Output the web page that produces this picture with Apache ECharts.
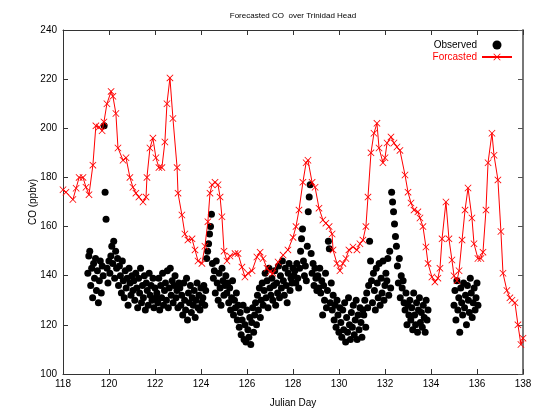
<!DOCTYPE html>
<html><head><meta charset="utf-8">
<script src="https://cdn.jsdelivr.net/npm/echarts@6/dist/echarts.min.js"></script>
<style>html,body{margin:0;padding:0;background:#fff}#c{width:543px;height:411px}</style>
</head><body><div id="c"></div>
<script>
// ---- data ----
const xMin = 118, xMax = 138, xStep = 2;
const yMin = 100, yMax = 240, yStep = 20;

// Forecasted CO (Julian day, ppbv)
const fcDays = [118.00,118.13,118.43,118.57,118.70,118.87,119.00,119.13,119.30,119.43,119.57,119.70,119.78,119.91,120.09,120.17,120.30,120.39,120.61,120.74,120.91,121.04,121.17,121.30,121.48,121.61,121.65,121.78,121.91,122.04,122.17,122.30,122.43,122.52,122.65,122.78,122.96,123.00,123.17,123.30,123.43,123.61,123.74,123.87,124.04,124.17,124.30,124.39,124.48,124.61,124.74,124.83,124.91,125.00,125.13,125.26,125.48,125.61,125.78,125.91,126.04,126.22,126.43,126.57,126.70,126.87,127.00,127.13,127.35,127.57,127.78,128.00,128.13,128.26,128.43,128.57,128.65,128.83,128.96,129.13,129.30,129.43,129.57,129.70,129.74,129.91,130.04,130.17,130.30,130.43,130.61,130.78,130.91,131.04,131.17,131.26,131.39,131.52,131.65,131.74,131.91,132.00,132.09,132.26,132.39,132.52,132.65,132.87,133.00,133.13,133.26,133.43,133.52,133.65,133.78,133.87,134.04,134.17,134.30,134.39,134.48,134.65,134.78,134.91,135.00,135.13,135.22,135.35,135.48,135.61,135.78,135.87,136.04,136.17,136.26,136.39,136.48,136.65,136.74,136.91,137.04,137.13,137.30,137.43,137.52,137.65,137.78,137.91,138.00];
const fcValues = [175,174,171,175.6,180,180,176,173,185,201,200.5,199,202.6,210,215,213,206,192,187,188,180,176,173.6,172,170,172,180,192,196,188,184,184,194.4,210,220.5,204,184,173.6,164.7,157,154.5,155,150.5,146,145,152,162,173.6,177,178,177,172,164,150,146,148,149,149,143.5,139.5,141,142,147.6,149.6,147,143,141.5,141,145.6,148.4,150.5,155.6,160,166.7,178,186,187,178,176,167.5,162.7,161.4,160,157,150.5,145,142,145,147,150.5,151.7,150.5,153,154.5,160,172,190,198,202,192,186,188,194,196.5,194,192.4,191,181,174,169.6,166.7,166,163.5,160,151.7,145,139.5,137.4,139,143,155,170,155,146.4,140,138,142,154.5,166.7,175.7,163.5,153,147,147,149.6,166.7,186,198,189,179,158,141,134,131,130,129,120,112,114.6];

// Observed CO, hourly (1/24 day) samples
const obsStep = 1 / 24;
const obs1Start = 119.08;
const obs1Values = [
  141,148,150,136,143,131,145,139,147,134,142,129,138,146,133,144,140,201,174,163,143,137,146,141,
  148,152,145,154,139,150,143,147,136,144,140,133,146,138,131,142,135,139,128,143,137,132,140,134,
  138,130,141,135,127,139,133,143,129,136,131,140,126,137,134,128,141,132,136,130,139,127,135,131,
  133,129,139,126,136,131,141,128,134,137,130,142,127,135,143,132,138,129,136,140,131,134,127,137,
  135,128,132,124,137,130,126,139,122,133,129,136,125,131,128,134,123,130,137,127,132,126,135,129,
  131,136,128,134,147,150,153,157,160,165,145,139,142,133,146,137,130,141,135,128,143,138,132,136,
  140,133,137,129,135,126,131,138,124,130,127,133,122,128,119,125,116,122,128,114,120,113,126,118,
  115,123,112,121,127,117,124,129,120,132,126,135,123,130,137,128,134,141,131,138,127,143,135,132,
  139,130,136,142,128,137,133,144,131,140,135,146,138,132,143,136,129,141,145,134,139,137,143,140,
  142,137,145,139,135,143,150,155,159,146,140,144,138,152,166,172,177,149,141,145,136,143,139,134,
  140,135,143,133,138,124,136,130,141,127,134,154,151,129,137,126,132,122,128,119,130,124,117,127,
  121,115,126,118,129,113,123,117,131,120,114,125,119,128,116,122,130,114,124,118,127,121,115,126,
  124,130,119,133,127,136,154,146,138,129,141,134,126,143,137,131,145,128,139,133,146,130,136,141,
  138,147,132,150,135,174,170,166,161,156,152,144,137,147,131,140,135,138,129,126,133,120,128,124,
  130,122,127,118,133,124,120,129,117,126,131,121,125,119,128,123,117,130,122,126
];
const obs2Start = 135.0;
const obs2Values = [128,134,122,138,126,131,117,135,129,124,137,127,132,120,136,130,125,139,133,123,129,135,126,131,137,128];

const titleText = 'Forecasted CO  over Trinidad Head';
const xName = 'Julian Day';
const yName = 'CO (ppbv)';
const obsName = 'Observed';
const fcName = 'Forcasted';

// ---- build ----
const fcData = fcDays.map((d, i) => [d, fcValues[i]]);
const obsData = obs1Values.map((v, i) => [obs1Start + i * obsStep, v])
  .concat(obs2Values.map((v, i) => [obs2Start + i * obsStep, v]));

const FONT = 'Liberation Sans, Arial, sans-serif';
const xSym = 'path://M0,0.8L0.8,0L5,4.2L9.2,0L10,0.8L5.8,5L10,9.2L9.2,10L5,5.8L0.8,10L0,9.2L4.2,5Z';

const chart = echarts.init(document.getElementById('c'), null, {renderer: 'canvas'});
chart.setOption({
  backgroundColor: '#fff',
  animation: false,
  title: {
    text: titleText, left: 288, top: 7, textAlign: 'center',
    textStyle: {fontSize: 8, fontWeight: 'normal', color: '#000', fontFamily: FONT}
  },
  legend: {
    orient: 'vertical', right: 25, top: 35, align: 'right', itemGap: 2,
    itemWidth: 30, itemHeight: 9,
    textStyle: {fontSize: 10, fontFamily: FONT},
    data: [
      {name: obsName, textStyle: {color: '#000'}},
      {name: fcName, textStyle: {color: '#ff0000'}}
    ]
  },
  grid: {left: 63, right: 20, top: 30, bottom: 37, containLabel: false, outerBoundsMode: 'none'},
  xAxis: [{
    type: 'value', min: xMin, max: xMax, interval: xStep,
    name: xName, nameLocation: 'middle', nameGap: 24, nameMoveOverlap: false,
    nameTextStyle: {fontSize: 10, color: '#000', fontFamily: FONT},
    axisLine: {lineStyle: {color: '#333', width: 1}},
    axisTick: {inside: true, length: 5, lineStyle: {color: '#333'}},
    axisLabel: {fontSize: 10, color: '#000', margin: 5, fontFamily: FONT},
    splitLine: {show: false}
  }, {
    type: 'value', position: 'top', min: xMin, max: xMax, interval: xStep,
    axisLine: {lineStyle: {color: '#333', width: 1}},
    axisTick: {inside: true, length: 5, lineStyle: {color: '#333'}},
    axisLabel: {show: false}, splitLine: {show: false}
  }],
  yAxis: [{
    type: 'value', min: yMin, max: yMax, interval: yStep,
    name: yName, nameLocation: 'middle', nameGap: 25, nameRotate: 90, nameMoveOverlap: false,
    nameTextStyle: {fontSize: 10, color: '#000', fontFamily: FONT},
    axisLine: {show: true, lineStyle: {color: '#333', width: 1}},
    axisTick: {show: true, inside: true, length: 5, lineStyle: {color: '#333'}},
    axisLabel: {fontSize: 10, color: '#000', margin: 6, fontFamily: FONT},
    splitLine: {show: false}
  }, {
    type: 'value', position: 'right', min: yMin, max: yMax, interval: yStep,
    axisLine: {show: true, lineStyle: {color: '#777', width: 2}},
    axisTick: {show: true, inside: true, length: 5, lineStyle: {color: '#555'}},
    axisLabel: {show: false}, splitLine: {show: false}
  }],
  series: [{
    name: obsName, type: 'scatter', data: obsData,
    symbol: 'circle', symbolSize: 7,
    itemStyle: {color: '#000', opacity: 1}, z: 2
  }, {
    name: fcName, type: 'line', data: fcData,
    symbol: xSym, symbolSize: 7, showSymbol: true, showAllSymbol: true,
    lineStyle: {color: '#ff0000', width: 1},
    itemStyle: {color: '#ff0000'}, z: 3
  }]
});
</script></body></html>
